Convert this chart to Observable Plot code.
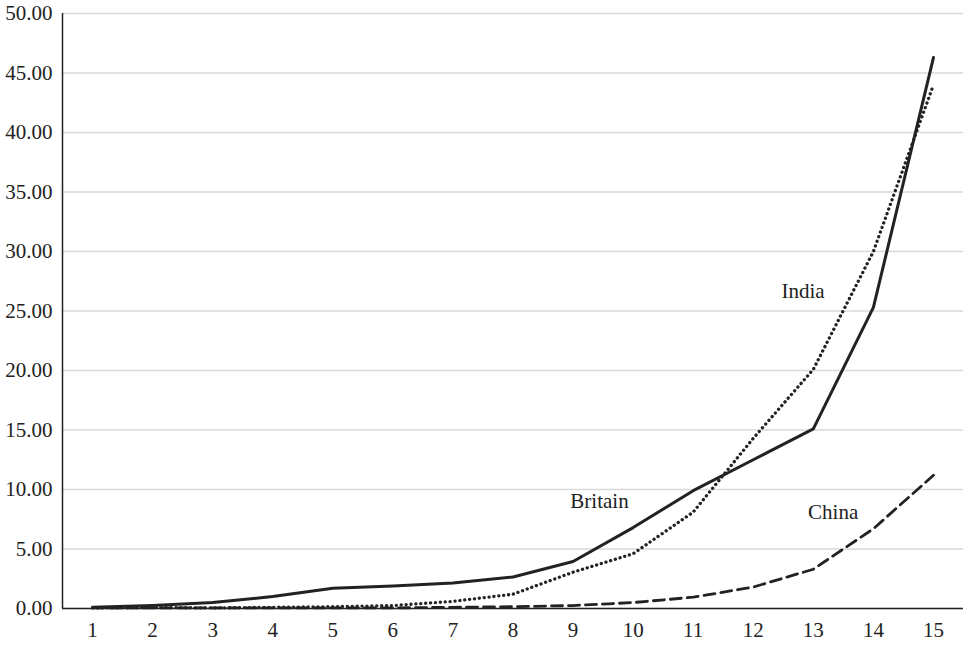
<!DOCTYPE html>
<html>
<head>
<meta charset="utf-8">
<script src="https://cdn.jsdelivr.net/npm/d3@7"></script>
<script src="https://cdn.jsdelivr.net/npm/@observablehq/plot@0.6"></script>
<style>
  html, body { margin: 0; padding: 0; background: #fff; }
  svg { display: block; }
</style>
</head>
<body>
<div id="chart"></div>
<script>
const periods = [1,2,3,4,5,6,7,8,9,10,11,12,13,14,15];
const britain = [0.1,0.25,0.5,1.0,1.7,1.9,2.15,2.65,3.95,6.8,9.9,12.5,15.1,25.3,46.3];
const india   = [0.05,0.08,0.05,0.1,0.15,0.25,0.6,1.2,3.05,4.6,8.1,14.3,20.1,30.0,44.0];
const china   = [0.05,0.05,0.05,0.05,0.05,0.05,0.1,0.15,0.25,0.5,0.95,1.8,3.3,6.7,11.2];
const yTicks = [0,5,10,15,20,25,30,35,40,45,50];
const labels = [
  {text: "India", x: 12.83, y: 26.7},
  {text: "Britain", x: 9.44, y: 9.0},
  {text: "China", x: 13.33, y: 8.1}
];

const rows = (vals) => periods.map((p, i) => ({x: p, y: vals[i]}));
const ink = "#222";
const font = "'Liberation Serif', 'Times New Roman', serif";

const chart = Plot.plot({
  width: 968,
  height: 646,
  marginLeft: 62,
  marginRight: 5,
  marginTop: 13,
  marginBottom: 38,
  style: {fontFamily: font, fontSize: "21px", color: ink, background: "#fff"},
  x: {type: "linear", domain: [0.5, 15.5], ticks: periods, tickFormat: d => String(d), label: null},
  y: {domain: [0, 50], ticks: yTicks, tickFormat: d => d.toFixed(2), label: null},
  marks: [
    Plot.gridY(yTicks, {stroke: "#d9d9d9", strokeOpacity: 1, strokeWidth: 1.3}),
    Plot.axisY(yTicks, {tickSize: 0, tickPadding: 10, tickFormat: d => d.toFixed(2), fontSize: 21, label: null, fill: ink}),
    Plot.axisX(periods, {tickSize: 0, tickPadding: 14, tickFormat: d => String(d), fontSize: 21, label: null, fill: ink}),
    Plot.ruleY([0], {stroke: ink, strokeWidth: 1.5}),
    Plot.ruleX([0.5], {stroke: ink, strokeWidth: 1.5}),
    Plot.line(rows(china), {x: "x", y: "y", stroke: ink, strokeWidth: 2.8, strokeDasharray: "11,6"}),
    Plot.line(rows(india), {x: "x", y: "y", stroke: ink, strokeWidth: 3.3, strokeDasharray: "0.1,4.8", strokeLinecap: "round"}),
    Plot.line(rows(britain), {x: "x", y: "y", stroke: ink, strokeWidth: 3}),
    Plot.text(labels, {x: "x", y: "y", text: "text", fontSize: 21, fill: ink, fontFamily: font})
  ]
});
document.getElementById("chart").appendChild(chart);
</script>
</body>
</html>
